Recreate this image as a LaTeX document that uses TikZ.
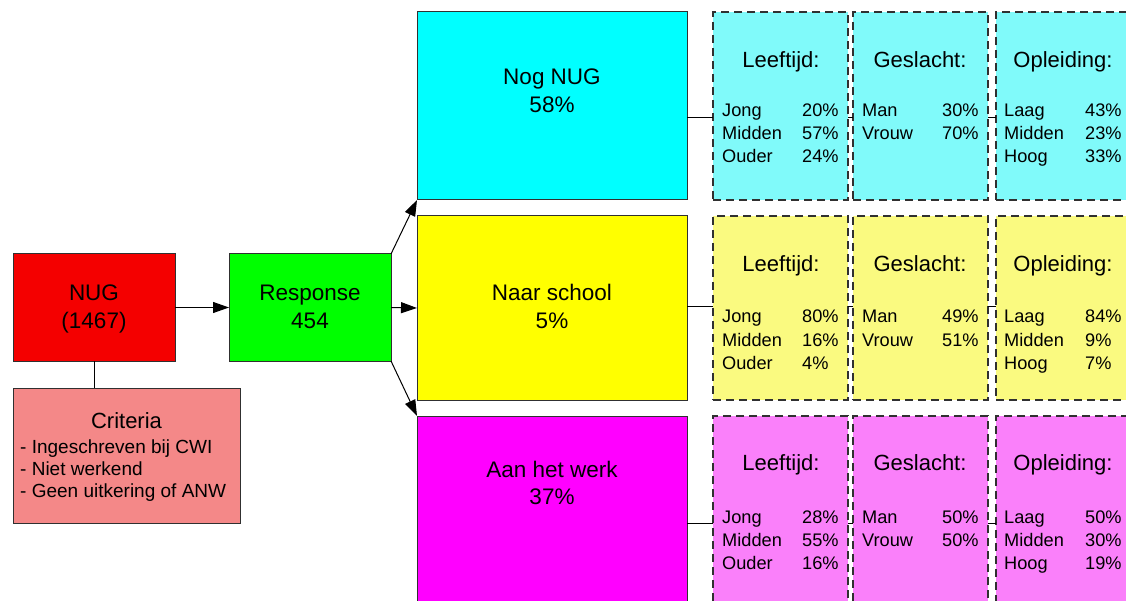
\documentclass[tikz,border=0pt]{standalone}
\usepackage{fontspec}
\setmainfont{Liberation Sans}
\usetikzlibrary{arrows.meta}
\definecolor{edge}{HTML}{303030}
\definecolor{cyanF}{HTML}{00FFFF}
\definecolor{yellowF}{HTML}{FFFF00}
\definecolor{magentaF}{HTML}{FF00FF}
\definecolor{redF}{HTML}{F40000}
\definecolor{greenF}{HTML}{00FF00}
\definecolor{cyanL}{HTML}{80FAFA}
\definecolor{yellowL}{HTML}{FAFA80}
\definecolor{magentaL}{HTML}{FA80FA}
\definecolor{critF}{HTML}{F48888}
\tikzset{
  box/.style={draw=edge, line width=1pt, inner sep=0pt, outer sep=0pt},
  dbox/.style={draw=edge, line width=1.1pt, dash pattern=on 8pt off 5pt, inner sep=0pt, outer sep=0pt},
  big/.style={font=\fontsize{22.5}{27}\selectfont, anchor=base, inner sep=0pt},
  hdr/.style={font=\fontsize{22}{26}\selectfont, anchor=base, inner sep=0pt},
  dat/.style={font=\fontsize{18.2}{21}\selectfont, anchor=base west, inner sep=0pt},
  crit/.style={font=\fontsize{19}{22}\selectfont, anchor=base west, inner sep=0pt},
  conn/.style={draw=black, line width=1pt},
  arr/.style={draw=black, line width=1pt, -{Triangle[length=16pt,width=11pt]}}
}
\newcommand{\lftcol}[6]{%
  \node[hdr] (l#1h) at (781,#2) {Leeftijd:};
  \node[dat] (l#1a) at (722,#3) {Jong};
  \node[dat] (l#1b) at (722,{#3+23}) {Midden};
  \node[dat] (l#1c) at (722,{#3+46}) {Ouder};
  \node[dat] (l#1p) at (802,#3) {#4};
  \node[dat] (l#1q) at (802,{#3+23}) {#5};
  \node[dat] (l#1r) at (802,{#3+46}) {#6};
}
\newcommand{\gslcol}[5]{%
  \node[hdr] (g#1h) at (920,#2) {Geslacht:};
  \node[dat] (g#1a) at (862,#3) {Man};
  \node[dat] (g#1b) at (862,{#3+23}) {Vrouw};
  \node[dat] (g#1p) at (942,#3) {#4};
  \node[dat] (g#1q) at (942,{#3+23}) {#5};
}
\newcommand{\oplcol}[6]{%
  \node[hdr] (o#1h) at (1063,#2) {Opleiding:};
  \node[dat] (o#1a) at (1004,#3) {Laag};
  \node[dat] (o#1b) at (1004,{#3+23}) {Midden};
  \node[dat] (o#1c) at (1004,{#3+46}) {Hoog};
  \node[dat] (o#1p) at (1085,#3) {#4};
  \node[dat] (o#1q) at (1085,{#3+23}) {#5};
  \node[dat] (o#1r) at (1085,{#3+46}) {#6};
}
\begin{document}
\begin{tikzpicture}[x=1pt,y=-1pt]
\useasboundingbox (0,0) rectangle (1126,601);

% left part
\node[box, fill=redF, minimum width=162pt, minimum height=107pt] (nug) at (94,307.5) {};
\node[big] (nugA) at (94,301) {NUG};
\node[big] (nugB) at (94,328) {(1467)};

\node[box, fill=critF, minimum width=227pt, minimum height=135pt] (crit) at (126.5,455.5) {};
\node[hdr] (critT) at (126.5,428) {Criteria};
\node[crit] (critA) at (20,453) {- Ingeschreven bij CWI};
\node[crit] (critB) at (20,475) {- Niet werkend};
\node[crit] (critC) at (20,497) {- Geen uitkering of ANW};

\node[box, fill=greenF, minimum width=162pt, minimum height=107pt] (resp) at (310,307.5) {};
\node[big] (respA) at (310,301) {Response};
\node[big] (respB) at (310,328) {454};

% big boxes
\node[box, fill=cyanF, minimum width=270pt, minimum height=188pt] (nog) at (552,106) {};
\node[big] (nogA) at (552,85) {Nog NUG};
\node[big] (nogB) at (552,113) {58\%};

\node[box, fill=yellowF, minimum width=270pt, minimum height=184pt] (school) at (552,308) {};
\node[big] (schA) at (552,301) {Naar school};
\node[big] (schB) at (552,328) {5\%};

\node[box, fill=magentaF, minimum width=270pt, minimum height=190pt] (werk) at (552,511) {};
\node[big] (werkA) at (552,477) {Aan het werk};
\node[big] (werkB) at (552,504) {37\%};

% dashed boxes
\node[dbox, fill=cyanL, minimum width=135pt, minimum height=188pt] (d11) at (780.5,106) {};
\node[dbox, fill=cyanL, minimum width=135pt, minimum height=188pt] (d12) at (920.5,106) {};
\node[dbox, fill=cyanL, minimum width=134pt, minimum height=188pt] (d13) at (1063,106) {};
\node[dbox, fill=yellowL, minimum width=135pt, minimum height=184pt] (d21) at (780.5,308) {};
\node[dbox, fill=yellowL, minimum width=135pt, minimum height=184pt] (d22) at (920.5,308) {};
\node[dbox, fill=yellowL, minimum width=134pt, minimum height=184pt] (d23) at (1063,308) {};
\node[dbox, fill=magentaL, minimum width=135pt, minimum height=190pt] (d31) at (780.5,511) {};
\node[dbox, fill=magentaL, minimum width=135pt, minimum height=190pt] (d32) at (920.5,511) {};
\node[dbox, fill=magentaL, minimum width=134pt, minimum height=190pt] (d33) at (1063,511) {};

\coordinate (c1) at (0,118);
\coordinate (c2) at (0,307);
\coordinate (c3) at (0,523);

% texts in dashed boxes
\lftcol{1}{68}{117}{20\%}{57\%}{24\%}
\gslcol{1}{68}{117}{30\%}{70\%}
\oplcol{1}{68}{117}{43\%}{23\%}{33\%}
\lftcol{2}{272}{323}{80\%}{16\%}{4\%}
\gslcol{2}{272}{323}{49\%}{51\%}
\oplcol{2}{272}{323}{84\%}{9\%}{7\%}
\lftcol{3}{470}{523}{28\%}{55\%}{16\%}
\gslcol{3}{470}{523}{50\%}{50\%}
\oplcol{3}{470}{523}{50\%}{30\%}{19\%}

% connectors
\draw[conn] (nug.south) -- (nug.south |- crit.north);
\draw[arr] (nug.east) -- (resp.west);
\draw[arr] (resp.north east) -- (nog.south west);
\draw[arr] (resp.east) -- (school.west);
\draw[arr] (resp.south east) -- (werk.north west);

\foreach \r in {1,2,3}{
  \draw[conn] (\ifcase\r\or nog\or school\or werk\fi.east |- c\r) -- (d\r1.west |- c\r);
  \draw[conn] (d\r1.east |- c\r) -- (d\r2.west |- c\r);
  \draw[conn] (d\r2.east |- c\r) -- (d\r3.west |- c\r);
}
\end{tikzpicture}
\end{document}
